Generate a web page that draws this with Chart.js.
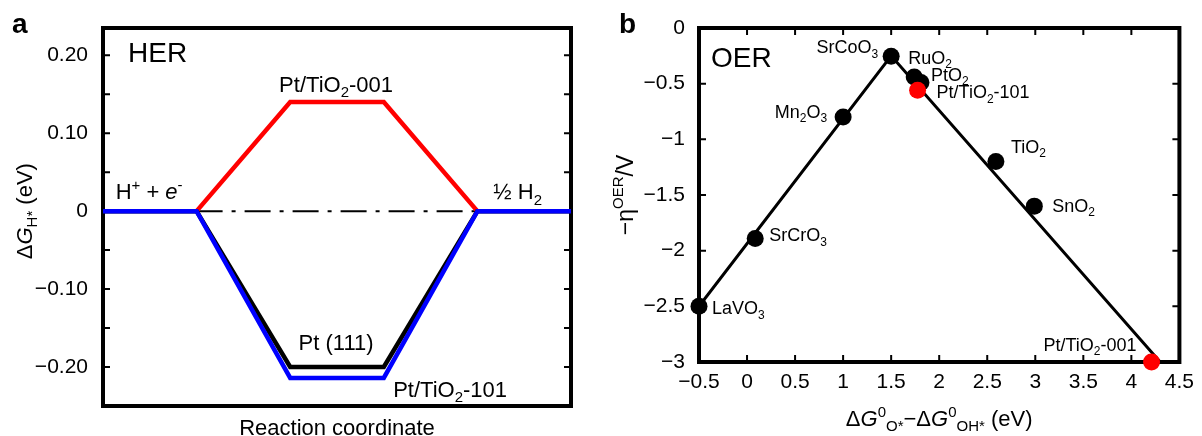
<!DOCTYPE html>
<html>
<head>
<meta charset="utf-8">
<script src="https://cdn.jsdelivr.net/npm/chart.js@4.4.1/dist/chart.umd.min.js"></script>
<style>
  html, body { margin: 0; padding: 0; background: #fff; }
  #wrap { position: relative; width: 1202px; height: 436px; overflow: hidden; }
  canvas { position: absolute; top: 0; }
  #her { left: 0; }
  #oer { left: 600px; }
</style>
</head>
<body>
<div id="wrap">
  <canvas id="her" width="600" height="436"></canvas>
  <canvas id="oer" width="602" height="436"></canvas>
</div>
<script>
// panel a: HER free energy steps (reaction coordinate 0..5)
const stepX = [0, 1, 2, 3, 4, 5];
const gTiO2_101 = [0, 0, -0.214, -0.214, 0, 0];
const gPt111 = [0, 0, -0.20, -0.20, 0, 0];
const gTiO2_001 = [null, 0, 0.14, 0.14, 0, null];
const refX = [1, 4];
const refY = [0, 0];

// panel b: OER volcano
const oerNames = ['LaVO_3', 'SrCrO_3', 'Mn_2O_3', 'SrCoO_3', 'RuO_2', 'PtO_2', 'TiO_2', 'SnO_2'];
const oerX = [-0.5, 0.085, 1.0, 1.5, 1.74, 1.81, 2.59, 2.99];
const oerY = [-2.5, -1.89, -0.80, -0.254, -0.44, -0.49, -1.20, -1.60];
const ptNames = ['Pt/TiO_2-101', 'Pt/TiO_2-001'];
const ptX = [1.775, 4.21];
const ptY = [-0.56, -3.0];
const volcanoX = [-0.5, 1.5, 4.3];
const volcanoY = [-2.5, -0.25, -3.0];

// label placement (pixel offsets from the point)
const oerLabelPos = [[13, 8, 'left'], [14, 3, 'left'], [-16, 1, 'right'], [-13, -3, 'right'],
  [-6, -13, 'left'], [10, -2, 'left'], [15, -9, 'left'], [18, 6, 'left']];
const ptLabelPos = [[19, 8, 'left'], [-15, -11, 'right']];

const FONT = '"Liberation Sans", Arial, sans-serif';
const pts = (xs, ys) => xs.map((x, i) => ({ x, y: ys[i] }));
const minus = s => s.replace('-', '\u2212');

// tiny markup: _{sub} ^{sup} %{italic}
function parseRich(str) {
  const out = [];
  let i = 0, buf = '';
  const flush = () => { if (buf) { out.push({ t: buf, m: 'n', it: false }); buf = ''; } };
  while (i < str.length) {
    const c = str[i];
    if (c === '_' || c === '^' || c === '%') {
      flush();
      let body;
      if (str[i + 1] === '{') { const j = str.indexOf('}', i); body = str.slice(i + 2, j); i = j + 1; }
      else { body = str[i + 1]; i += 2; }
      out.push({ t: body, m: c === '_' ? 'sub' : c === '^' ? 'sup' : 'n', it: c === '%' });
    } else { buf += c; i++; }
  }
  flush();
  return out;
}

function drawRich(ctx, str, x, y, size, align) {
  const parts = parseRich(str);
  const fontOf = p => (p.it ? 'italic ' : '') + (p.m === 'n' ? size : Math.round(size * 0.66)) + 'px ' + FONT;
  let w = 0;
  parts.forEach(p => { ctx.font = fontOf(p); p.w = ctx.measureText(p.t).width; w += p.w; });
  let cx = align === 'center' ? x - w / 2 : align === 'right' ? x - w : x;
  ctx.textAlign = 'left';
  ctx.textBaseline = 'alphabetic';
  ctx.fillStyle = '#000';
  parts.forEach(p => {
    ctx.font = fontOf(p);
    const dy = p.m === 'sub' ? size * 0.24 : p.m === 'sup' ? -size * 0.42 : 0;
    ctx.fillText(p.t, cx, y + dy);
    cx += p.w;
  });
}

function drawBold(ctx, t, x, y) {
  ctx.font = 'bold 28px ' + FONT;
  ctx.fillStyle = '#000';
  ctx.textAlign = 'left';
  ctx.textBaseline = 'alphabetic';
  ctx.fillText(t, x, y);
}

// box frame + inward ticks
const framePlugin = {
  id: 'frame',
  beforeDatasetsDraw(chart, args, opts) {
    const { ctx, chartArea: a, scales } = chart;
    const len = 7;
    ctx.save();
    ctx.strokeStyle = '#000';
    ctx.lineWidth = 2;
    ctx.beginPath();
    scales.y.ticks.forEach(t => {
      const py = scales.y.getPixelForValue(t.value);
      ctx.moveTo(a.left, py); ctx.lineTo(a.left + len, py);
      ctx.moveTo(a.right, py); ctx.lineTo(a.right - len, py);
    });
    if (opts.xTicks) {
      scales.x.ticks.forEach(t => {
        const px = scales.x.getPixelForValue(t.value);
        ctx.moveTo(px, a.bottom); ctx.lineTo(px, a.bottom - len);
        ctx.moveTo(px, a.top); ctx.lineTo(px, a.top + len);
      });
    }
    ctx.stroke();
    ctx.lineWidth = 4;
    ctx.strokeRect(a.left, a.top, a.width, a.height);
    ctx.restore();
  }
};

const tickFont = { family: FONT, size: 21 };
const noGrid = { display: false, drawTicks: false };

// ---- panel a ----
const herNotes = [
  { text: 'HER', x: 0.267, y: 0.192, size: 28, align: 'left' },
  { text: 'Pt/TiO_2-001', x: 2.49, y: 0.153, size: 22, align: 'center' },
  { text: 'H^{+} + %{e}^{-}', x: 0.135, y: 0.015, size: 22, align: 'left' },
  { text: '\u00bd H_2', x: 4.17, y: 0.015, size: 22, align: 'left' },
  { text: 'Pt (111)', x: 2.49, y: -0.1787, size: 22, align: 'center' },
  { text: 'Pt/TiO_2-101', x: 3.10, y: -0.2383, size: 22, align: 'left' }
];

new Chart(document.getElementById('her'), {
  type: 'line',
  data: {
    datasets: [
      { data: pts(stepX, gTiO2_101), borderColor: '#0000ff', borderWidth: 4.5 },
      { data: pts(stepX, gPt111), borderColor: '#000000', borderWidth: 4.5 },
      { data: pts(stepX, gTiO2_001), borderColor: '#ff0000', borderWidth: 4.5 },
      { data: pts(refX, refY), borderColor: '#000000', borderWidth: 2, borderDash: [26, 9, 4, 9] }
    ]
  },
  options: {
    responsive: false,
    animation: false,
    layout: { padding: { left: 0, right: 29, top: 28, bottom: 0 } },
    elements: { point: { radius: 0 }, line: { tension: 0 } },
    plugins: { legend: { display: false }, tooltip: { enabled: false }, frame: { xTicks: false } },
    scales: {
      x: {
        type: 'linear', min: 0, max: 5,
        grid: noGrid, border: { display: false }, ticks: { display: false },
        afterFit: s => { s.height = 30; }
      },
      y: {
        min: -0.25, max: 0.235,
        grid: noGrid, border: { display: false },
        ticks: {
          stepSize: 0.05, includeBounds: false, autoSkip: false, padding: 15,
          color: '#000', font: tickFont,
          callback: v => {
            const r = Math.round(v * 100);
            if (r % 10 !== 0) return '';
            return r === 0 ? '0' : minus((r / 100).toFixed(2));
          }
        },
        afterFit: s => { s.width = 103; }
      }
    }
  },
  plugins: [framePlugin, {
    id: 'herNotes',
    afterDraw(chart) {
      const { ctx, scales: { x, y }, chartArea: a } = chart;
      ctx.save();
      herNotes.forEach(n => drawRich(ctx, n.text, x.getPixelForValue(n.x), y.getPixelForValue(n.y), n.size, n.align));
      drawRich(ctx, 'Reaction coordinate', (a.left + a.right) / 2, 435, 22, 'center');
      ctx.translate(32, y.getPixelForValue(0));
      ctx.rotate(-Math.PI / 2);
      drawRich(ctx, '\u0394%{G}_{H*} (eV)', 0, 0, 22, 'center');
      ctx.restore();
      drawBold(ctx, 'a', 12, 33);
    }
  }]
});

// ---- panel b ----
new Chart(document.getElementById('oer'), {
  type: 'scatter',
  data: {
    datasets: [
      { data: pts(ptX, ptY), pointRadius: 8.5, pointBackgroundColor: '#ff0000', pointBorderWidth: 0, clip: false },
      { data: pts(oerX, oerY), pointRadius: 8.5, pointBackgroundColor: '#000000', pointBorderWidth: 0, clip: false },
      { data: pts(volcanoX, volcanoY), showLine: true, pointRadius: 0, borderColor: '#000000', borderWidth: 3 }
    ]
  },
  options: {
    responsive: false,
    animation: false,
    layout: { padding: { left: 0, right: 21, top: 28, bottom: 0 } },
    plugins: { legend: { display: false }, tooltip: { enabled: false }, frame: { xTicks: true } },
    scales: {
      x: {
        type: 'linear', min: -0.5, max: 4.5,
        grid: noGrid, border: { display: false },
        ticks: { stepSize: 0.5, autoSkip: false, maxRotation: 0, padding: 8, color: '#000', font: tickFont,
          callback: v => minus(String(Math.round(v * 10) / 10)) },
        afterFit: s => { s.height = 74; }
      },
      y: {
        min: -3, max: 0,
        grid: noGrid, border: { display: false },
        ticks: { stepSize: 0.5, autoSkip: false, padding: 14, color: '#000', font: tickFont,
          callback: v => minus(String(Math.round(v * 10) / 10)) },
        afterFit: s => { s.width = 99; }
      }
    }
  },
  plugins: [framePlugin, {
    id: 'oerNotes',
    afterDraw(chart) {
      const { ctx, scales: { x, y }, chartArea: a } = chart;
      ctx.save();
      oerNames.forEach((n, i) => {
        const [dx, dy, al] = oerLabelPos[i];
        drawRich(ctx, n, x.getPixelForValue(oerX[i]) + dx, y.getPixelForValue(oerY[i]) + dy, 18, al);
      });
      ptNames.forEach((n, i) => {
        const [dx, dy, al] = ptLabelPos[i];
        drawRich(ctx, n, x.getPixelForValue(ptX[i]) + dx, y.getPixelForValue(ptY[i]) + dy, 18, al);
      });
      drawRich(ctx, 'OER', a.left + 12, 67, 28, 'left');
      drawRich(ctx, '\u0394%{G}^{0}_{O*}\u2212\u0394%{G}^{0}_{OH*} (eV)', (a.left + a.right) / 2, 426, 22, 'center');
      ctx.translate(33, (a.top + a.bottom) / 2);
      ctx.rotate(-Math.PI / 2);
      drawRich(ctx, '\u2212\u03b7^{OER}/V', 0, 0, 23, 'center');
      ctx.restore();
      drawBold(ctx, 'b', 19, 33);
    }
  }]
});
</script>
</body>
</html>
